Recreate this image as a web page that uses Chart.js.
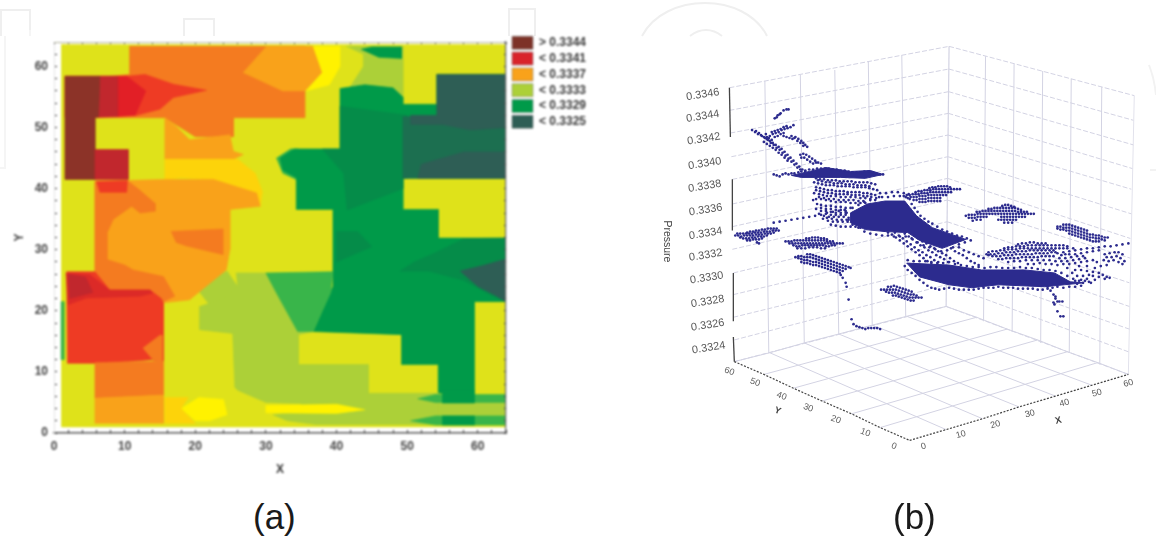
<!doctype html>
<html><head><meta charset="utf-8">
<script src="https://cdn.jsdelivr.net/npm/chart.js@4"></script>
<style>
html,body{margin:0;background:#fff;width:1156px;height:539px;overflow:hidden}
canvas{position:absolute}
#a{filter:blur(.8px)}
#b{filter:blur(.6px)}
svg{position:absolute;left:0;top:0}
.cap{position:absolute;top:496px;font:35px "Liberation Sans",Arial,sans-serif;color:#1a1a1a;line-height:42px}
</style></head><body>
<svg width="1156" height="539" fill="none" stroke="#efefef" stroke-width="2">
<path d="M1 36V10H30V36M184 36V19H214V36M509 36V9H535V36M642 36C665 -8 745 -8 767 36M690 36C700 28 712 28 722 36"/>
<path d="M30 30V36M5 36V168H0" stroke="#f5f5f5"/>
<path d="M1149 65C1153 75 1155 85 1156 95M1150 170H1156" stroke="#f2f2f2"/>
</svg>
<canvas id="a" width="620" height="480" style="left:0;top:0"></canvas>
<canvas id="b" width="536" height="539" style="left:620px;top:0"></canvas>
<div class="cap" style="left:253px">(a)</div>
<div class="cap" style="left:893px">(b)</div>
<script>
// ---------- panel (a): level regions, X,Y pairs ----------
const legendLabels=['> 0.3344','< 0.3341','< 0.3337','< 0.3333','< 0.3329','< 0.3325'];
const legendColors=['#7d3227','#d9232a','#f9a21a','#acd038','#009a49','#2e5e55'];
const lime='#dfe21a',orange='#f47b20',lightOrange='#f9a21a',red='#ee3b24',deepRed='#e21f26',darkRed='#c1272d',brown='#8c3328',
 yellow='#fff200',amber='#fdd30a',lightGreen='#acd038',midGreen='#39b54a',green='#009a49',darkGreen='#058c49',tealMid='#1c6f50',teal='#2e5e55';
const rBase=[1.1,1,64,1,64,63.6,1.1,63.6];
const rOrangeTop=[10.7,63.3,35.5,63.3,35.5,51.6,25.4,51.6,25.4,48.5,20,48.5,15.7,51.6,5,51.6,5,58,10.7,58.7];
const rAmberTop=[30.1,63.3,26.8,59,32.4,56,35.5,56,38,59,36.7,63.3];
const rYellowTop=[36.7,63.3,38,59,35.7,56,39,57,40.5,60,40.5,63.3];
const rLowerOrange=[15.7,51.6,17.3,50.2,19.2,48,24.9,48.8,25.4,46.1,26.8,45.6,25.4,44.8,15.7,44.8];
const rGreenTopLight=[41.4,63.3,49.4,63.3,49.4,55,41,55,43.8,60,43.8,62];
const rGreenTop=[43.5,62.8,45,63.2,49.2,63.2,49.2,61.3,46,61.5];
const rGreen=[40.5,56.4,44,57,48,56.5,49.4,55,49.4,53.8,54.2,53.8,54.2,58.7,64,58.7,64,41.7,49.4,41.7,49.4,36.6,54.4,36.6,54.4,31.9,64,31.9,64,21.5,59.5,21.5,59.5,6.5,54.4,6.5,54.4,11.2,49.2,11.2,49.2,16.1,36.7,16.6,39.5,24,39.5,36.6,34.3,36.6,34.3,41.8,32.4,43,32,45,34,46.5,40.5,46.5];
const rGreenEdge=[31.5,45,32.4,42.5,34.3,41.5,34.6,41.5,34.6,46.5,33.5,46.5];
const rGreenDark=[40.5,53.5,50,52,50,41.7,49.4,41.7,49.4,40,41.5,36.5,41,42.5,38,46.5,40.5,46.5];
const rTealMid=[49.4,51.8,56,51.6,64,50,64,41.7,49.4,41.7];
const rTealUpper=[54.2,58.7,64,58.7,64,50,59,49.6,55,50.5,50.5,50.5,50.5,52,54.2,52];
const rTealLower=[51.5,41.7,64,41.7,64,46,58,46,52,44];
const rDarkLower=[49,26.5,51,28,54,29.5,58,31.8,64,31.9,64,21.5,62,22.5,58,25,53,26.5];
const rTealCorner=[57.5,26.5,61,27.5,64,28.5,64,21.5,62.5,22.5,60,24];
const rDarkPatch=[40,33,43,33,45,30.5,42,29,40,28];
const rMidGreen=[30,26.2,39.5,26.4,39.2,23,38,20,36.7,16.6,34.5,16.6,31.5,22.9];
const rLightGreen=[25.8,26.2,30,26.2,36.7,16.6,34.6,16.1,34.6,11.2,44.5,11.2,44.5,6.5,54.5,6.5,54.5,1.4,37,1.4,33,2,31,3,35,3.5,35,4.8,30,5,26,7,25.6,7.5,25.3,16.3,20.6,16.9,20.6,20.7,24,22,26,24];
const rLimeLobe=[20,24,24.5,26.5,26,24,25.5,21.5,22,21];
const rYellowBand=[30,4.5,40,4.7,44,3.8,40,3.2,30,3.3];
const rYellowBottom=[18,4,20.5,5.8,24,5.5,24.5,3,22,2,20,2];
const rAmberBottom=[15.7,5.8,19,5.8,18,4,20,1.6,15.7,1.6];
const rBandMid=[54.4,5,64,5,64,2.8,54.4,2.8];
const rBandUpper=[51.5,5.6,54,6.3,64,6.3,64,5,54,5];
const rBandLower=[50.5,2,54,2.8,64,2.8,64,1.3,54,1.3];
const rCentreUpper=[55,7,59.5,7,59.5,4.9,55,4.9];
const rCentreLower=[55,2.8,59.5,2.8,59.5,1.3,55,1.3];
const rRedTail=[1.55,58.4,10.3,58.4,12.9,58.7,16.9,57.1,21.6,56.1,16.9,54.9,15,53,11.7,52,5.8,51.7,1.55,51.7];
const rRedCore=[9,58.4,10.3,58.4,13,56,11.5,52,9,51.8];
const rDarkRedTop=[6.5,58.4,9,58.4,9,51.8,6,51.7];
const rBrown=[1.55,58.4,6.5,58.4,6.3,51.7,5.8,51.7,5.8,41.5,1.55,41.5];
const rDarkRedBlock=[5.8,46.4,10.5,46.4,10.5,41.5,5.8,41.5];
const rAmberBand=[15.7,44.8,26,44.8,28.5,42.5,29.5,39.5,29.2,37,28,39.3,22.6,41.5,18,41.8,15.7,41.5];
const rMidOrange=[5.8,41.2,15.7,41.5,22.6,41.5,28.7,39.3,29.2,37.1,24.9,36.6,24.9,30,24.4,26.7,19.2,21.8,15.5,21.3,5.8,21.3];
const rLeftOrange=[5.8,41.2,10.4,41.3,12,39.9,14.3,37.6,14.3,36.3,12.2,36,11,37.1,8.4,35,7.5,32.7,7.5,28.4,10,27.5,11.2,26.7,15.5,25.6,17.1,22.4,15.5,21.5,5.8,21.5];
const rOrangePatch=[16.6,33,23.9,33.4,23.9,29.2,18.8,30.6,17.3,31.2];
const rRedTopSmall=[6,41.2,10.4,41.3,10.3,39.4,6.5,39.4];
const rRedMain=[1.8,26.4,5.8,26.4,7.9,23.4,13.6,23.4,15.2,22,15.5,21.3,15.5,11.6,13.8,12,7,11.4,1.9,11.4];
const rRedDark=[1.7,26.2,5.1,25.9,7.9,23.4,13.6,23.4,14,22.9,12.2,22.4,4.6,22.1,2,21];
const rRedDarkest=[2,26,4.5,25.5,5.5,23,2.2,22];
const rOrangeInRed=[12.6,13.9,15,16,15.3,16,15.3,11.6,14,12];
const rOrangeLow=[5.8,11.5,15.5,11.8,15.5,6.2,5.8,5.7];
const rAmberLow=[5.8,5.7,15.5,6.2,15.5,1.6,5.8,1.6];
const rGreenStrip=[1,21.5,1.4,21.5,1.4,12,1,12];
const paintOrder=[[lime,rBase],[orange,rOrangeTop],[lightOrange,rAmberTop],[yellow,rYellowTop],[lightOrange,rLowerOrange],
 [lightGreen,rGreenTopLight],[green,rGreenTop],[lightGreen,rLimeLobe],[midGreen,rGreenEdge],[green,rGreen],[darkGreen,rGreenDark],[tealMid,rTealMid],[teal,rTealUpper],[teal,rTealLower],
 [darkGreen,rDarkLower],[teal,rTealCorner],[darkGreen,rDarkPatch],[lightGreen,rLightGreen],[midGreen,rMidGreen],[yellow,rYellowBand],[yellow,rYellowBottom],[amber,rAmberBottom],
 [lightGreen,rBandMid],[midGreen,rBandUpper],[midGreen,rBandLower],[green,rCentreUpper],[green,rCentreLower],
 [red,rRedTail],[deepRed,rRedCore],[darkRed,rDarkRedTop],[brown,rBrown],[darkRed,rDarkRedBlock],
 [amber,rAmberBand],[lightOrange,rMidOrange],[orange,rLeftOrange],[orange,rOrangePatch],[red,rRedTopSmall],[red,rRedMain],['#dc2a27',rRedDark],[darkRed,rRedDarkest],[orange,rOrangeInRed],[orange,rOrangeLow],[lightOrange,rAmberLow],[midGreen,rGreenStrip]];

// ---------- panel (b): 3-D plot read as projected positions (u,v) ----------
const pressureTicks=['0.3346','0.3344','0.3342','0.3340','0.3338','0.3336','0.3334','0.3332','0.3330','0.3328','0.3326','0.3324'];
const pressureTickU=[700,700,701,702,702,703,703,703,704,705,705,706];
const pressureTickV=[92,114,137,162,185,209,233,255,278,302,326,349];
const yFloorTicks=['60','50','40','30','20','10','0'];
const yFloorU=[727,753,780,807,835,865,894];
const yFloorV=[373,384,398,410,422,435,449];
const xFloorTicks=['0','10','20','30','40','50','60'];
const xFloorU=[924,962,997,1032,1067,1100,1132];
const xFloorV=[449,437,427,416,405,395,385];
const wallLeftV=[85,108,131,155,178,203,226,249,273,295,318,341,363];
const wallBackV=[43,66,89,111,133,155,177,199,221,243,265,285,307];
const wallRightV=[93,118,143,167,188,213,238,258,283,307,330,353,376];
const wallLeftU=[727,727,728,729,730,730,730,730,731,731,731,732,732];
const wallRightU=[1138,1137,1137,1136,1135,1135,1134,1134,1133,1133,1133,1132,1132];
const vertLeftU=[763,799,834,868,902],vertLeftTop=[78,72,67,58,52],vertLeftBottom=[354,344,335,326,317];
const vertRightU=[987,1016,1045,1074,1105],vertRightTop=[53,61,68,76,84],vertRightBottom=[322,333,344,354,366];
const floorLeftFront=[732,363,762,376,792,390,821,403,851,416,880,430,910,443];
const floorBackRight=[947,307,978,318,1009,330,1040,341,1070,353,1101,364,1132,376];
const floorFrontRight=[910,443,947,432,984,421,1021,409,1058,398,1095,387,1132,376];
const floorLeftBack=[732,363,768,354,803,344,838,335,872,326,907,317,947,307];
const denseBody=[850,212,867,203,885,200,905,200,917,215,933,227,967,239,943,248,920,240,908,232,885,231,865,229,850,222];
const denseBand=[907,263,950,265,983,270,1027,270,1057,273,1073,282,1087,283,1067,285,1047,287,1000,285,973,288,950,285,920,277];
const denseTail=[790,174,808,170,825,166,850,170,870,169,883,173,865,177,840,176,815,176,800,176];
const bodyEdge=[846,212,852,207,858,204,864,201,870,199,876,197,882,196,888,196,894,195,900,195,906,196,910,198,912,203,915,207,918,211,921,215,925,218,929,221,933,223,938,226,943,229,948,231,953,233,958,235,963,236,968,238,972,240,880,192,886,192,892,191,898,191,904,192,909,193,848,219,852,224,858,227,864,231,870,233,876,234,882,235,888,235,894,236,900,236,906,236,912,238,918,242,924,245,930,247,936,249,942,251,948,250,954,247,960,244,966,242];
const bandTop=[908,260,914,261,920,261,926,261,932,262,938,263,944,263,950,262,956,264,962,265,968,266,974,267,980,267,986,268,992,267,998,267,1004,268,1010,268,1016,268,1022,267,1028,268,1034,268,1040,269,1046,270,1052,270,1058,271,1064,273,1070,276,1076,279,1082,281,1088,281,1094,283,1060,287,1066,288,1072,287,1078,287,1084,286];
const upperCloud2=[817,179,821,180,825,181,829,181,833,182,837,182,841,182,845,183,849,183,853,183,857,184,861,184,865,184,869,185,815,189,819,190,823,191,827,192,831,192,835,193,839,193,843,193,847,193,851,194,855,194,859,194,863,195,867,195,871,196,818,196,823,197,828,198,833,198,838,199,843,199,848,199,853,199,858,200,863,200,820,207,825,208,830,208,835,209,840,209,845,210,825,213,830,214,835,214,840,214,845,214,826,217,831,218,836,219,841,219,846,219];
const patch1=[745,232,748,231,751,231,754,230,757,230,760,229,763,229,766,228,769,228,772,228,775,228,735,233,738,233,741,233,744,233,747,233,750,233,753,232,756,232,759,232,762,231,765,231,768,231,771,230,774,230,777,230,733,235,736,235,739,236,742,235,745,235,748,235,751,235,754,234,757,234,760,234,763,233,766,233,769,233,772,232,738,237,741,238,744,238,747,238,750,237,753,237,756,236,759,236,762,236,765,235,745,240,748,240,751,239,754,239,757,239,760,238,757,243,755,242];
const ridgeLine=[772,222,778,221,784,220,790,219,796,218,802,217,808,216,814,215,820,214,826,212,832,211,838,210,844,209];
const patch2=[805,238,808,238,811,237,814,237,817,237,820,238,823,238,826,239,784,241,787,241,790,241,793,240,796,240,799,240,802,240,805,240,808,240,811,240,814,240,817,240,820,240,823,240,826,241,829,241,832,241,788,243,791,243,794,243,797,243,800,243,803,243,806,243,809,243,812,243,815,243,818,243,821,243,824,243,827,243,830,243,833,243,836,243,839,243,842,243,792,245,795,246,798,246,801,245,804,245,807,245,810,245,813,245,816,245,819,245,822,245,825,246,828,246,831,245,834,245,796,248,800,248,804,248,808,247,812,247,816,247,820,248,824,248];
const patch3=[806,254,809,254,812,255,815,256,818,257,821,258,824,259,827,260,830,261,833,262,836,263,839,264,842,265,845,266,848,267,850,268,797,256,800,256,803,257,806,257,809,257,812,258,815,259,818,260,821,261,824,262,827,263,830,264,833,265,836,266,839,267,842,268,845,269,794,257,797,258,800,259,803,260,806,260,809,261,812,262,815,262,818,263,821,264,824,265,827,266,830,267,833,268,836,269,839,270,842,271,800,262,803,263,806,263,809,264,812,265,815,265,818,266,821,267,824,268,827,269,830,270,833,271,836,272,839,273];
const dropColumn=[840,275,842,278,845,283,846,287,848,300,851,320,853,325,856,327,859,328,862,329,865,330,868,329,871,329,874,329,877,329,880,330];
const patch4=[888,287,891,287,894,286,897,287,900,288,903,289,906,290,909,291,912,292,881,290,884,290,887,290,890,290,893,290,896,290,899,291,902,292,905,293,908,294,911,295,914,295,917,296,886,292,889,293,892,293,895,293,898,294,901,295,904,296,907,297,910,298,913,298,916,298,919,298,922,298,893,296,896,296,899,297,902,298,905,299,908,300,911,301,914,301];
const patch5=[930,187,933,186,936,186,939,185,942,185,945,185,948,185,951,186,916,191,919,190,922,190,925,189,928,189,931,189,934,188,937,188,940,188,943,188,946,188,949,188,952,188,955,188,958,188,961,188,904,195,907,194,910,194,913,193,916,193,919,193,922,192,925,192,928,192,931,191,934,191,937,191,940,191,943,191,946,191,949,191,952,191,908,197,911,196,914,196,917,196,920,195,923,195,926,195,929,194,932,194,935,194,938,194,941,194,944,194,947,194,914,199,917,199,920,198,923,198,926,198,929,197,932,197,935,197,938,197,941,197,920,201,923,201,926,201,929,200,932,200,935,200,938,200,941,200];
const patch6=[1004,205,1007,204,1010,204,1013,205,1016,206,990,208,993,208,996,207,999,207,1002,207,1005,207,1008,207,1011,207,1014,207,1017,207,1020,208,1023,209,978,211,981,211,984,210,987,210,990,210,993,210,996,210,999,210,1002,210,1005,210,1008,210,1011,210,1014,210,1017,210,1020,211,1023,211,1026,211,1029,211,967,215,970,214,973,214,976,214,979,213,982,213,985,213,988,213,991,213,994,213,997,213,1000,213,1003,213,1006,213,1009,213,1012,213,1015,213,1018,213,1021,213,1024,213,1027,213,1030,213,1033,213,1036,213,970,217,973,217,976,217,979,216,982,216,985,216,988,216,1003,216,1006,216,1009,216,1012,216,1015,216,1018,216,1021,216,1024,216,1027,216,974,220,978,219,982,219,1000,219,1003,219,1006,219,1009,219,1012,219,1015,219,1018,219,1006,222,1010,222,1014,222];
const patch7=[1066,224,1069,224,1072,224,1075,225,1078,226,1081,227,1084,228,1087,229,1090,230,1060,226,1063,226,1066,227,1069,227,1072,227,1075,228,1078,229,1081,230,1084,231,1087,232,1090,233,1093,234,1096,234,1099,235,1102,235,1105,236,1108,237,1111,237,1060,228,1063,229,1066,229,1069,230,1072,230,1075,231,1078,232,1081,233,1084,234,1087,235,1090,236,1093,237,1096,237,1099,238,1102,238,1105,239,1108,240,1072,233,1075,234,1078,235,1081,236,1084,237,1087,238,1090,239,1093,240,1096,241,1099,241,1102,241];
const patch8=[1020,244,1024,243,1028,243,1032,242,1036,242,1040,243,1044,243,1048,243,1006,248,1010,247,1014,247,1018,246,1022,246,1026,246,1030,245,1034,245,1038,245,1042,245,1046,245,1050,245,1054,245,1058,245,1062,245,1066,245,1070,246,990,252,994,251,998,251,1002,250,1006,250,1010,249,1014,249,1018,249,1022,248,1026,248,1030,248,1034,248,1038,248,1042,248,1046,248,1050,248,1054,248,1058,248,1062,248,1066,248,1070,248,1076,248,988,254,992,254,996,254,1000,253,1004,253,1008,252,1012,252,1016,252,1020,251,1024,251,1028,251,1032,250,1036,250,1040,250,1044,250,1048,250,1052,250,1056,250,1060,253,1066,252,1072,251,1078,250,1084,249,1090,248,1096,248,1102,247,1108,246,1114,246,1120,245,1126,244,1132,243];
const sparseRight=[990,255,994,256,998,256,1002,256,1006,255,1010,255,1014,255,1018,254,1022,254,1026,254,1030,254,1034,254,1038,253,1042,253,1046,253,1050,253,1054,252,1058,252,1064,255,1068,254,1072,254,1078,254,1084,253,1090,252,1096,251,1102,250,1000,259,1004,259,1008,258,1012,258,1016,258,1020,258,1024,257,1028,257,1032,257,1036,257,1040,257,1044,256,1048,256,1052,256,1056,256,1062,258,1068,258,1074,257,1080,256,1086,256,1010,262,1016,261,1022,261,1028,260,1034,260,1040,260,1046,260,1052,260,1058,261,1064,261,1070,261,1076,260,1082,259,1088,258,1030,264,1036,264,1042,263,1048,264,1054,264,1060,265,1066,264,1072,264,1078,263,1084,262,1090,261,1096,260,1108,254,1113,253,1118,252,1122,252,1126,254,1110,257,1115,257,1120,256,1124,258,1128,261,1107,260,1112,261,1117,260,1122,262,1126,264,1078,270,1084,270,1090,271,1096,272,1102,273,1106,275,1110,277,1113,278,1096,276,1102,277,1108,279,1090,279,1084,280,1078,281,1072,283,1098,280,1092,282,1086,283,1080,284,1070,268,1075,273,1080,276,1086,276,1092,275,1098,268,1104,266,1110,265,1100,262,1090,266,1082,266];
const tailDown=[1050,287,1053,291,1056,295,1058,299,1060,302,1056,303,1062,302,1058,297,1065,302,1057,305,1060,312,1063,317,1066,317];
const bandEdge=[905,266,908,270,912,273,916,276,920,280,924,283,928,286,932,288,936,289,940,290,945,289,950,288,955,289,960,290,965,290,970,290,975,290,980,289,985,288,990,288,995,288,1000,287,1005,288,1010,288,1015,288,1020,289,1025,289,1030,289,1035,289,1040,290,1045,290,1050,289,1055,288];
const midDiagonal=[888,232,892,234,896,237,900,240,904,243,908,246,912,249,916,252,920,255,924,258,928,261,932,263,895,232,899,235,903,238,907,241,911,244,915,247,919,250,923,252,927,255,931,257,935,260,939,262,905,233,909,236,913,239,917,242,921,245,925,247,929,250,933,252,937,255,941,257,945,259,949,262,915,235,919,238,923,241,927,243,931,246,935,248,939,251,943,253,947,255,951,258,955,261,959,263,952,248,956,251,960,253,964,255,968,258,972,261,976,263,980,265,960,247,965,250,970,252,975,254,980,256,985,258];
const upperCloud=[815,177,819,178,823,178,827,179,831,179,835,179,839,180,843,180,847,180,851,180,855,181,859,181,863,181,867,181,871,182,875,183,813,181,817,182,821,183,825,184,829,184,833,184,837,185,841,185,845,185,849,185,853,186,857,186,861,186,865,186,869,187,873,188,877,189,815,186,819,187,823,188,827,189,831,189,835,190,839,190,843,190,847,191,851,191,855,191,859,191,863,192,867,192,871,193,875,194,879,196,813,192,818,193,822,194,826,195,830,195,835,195,840,196,845,196,850,196,855,196,860,197,865,197,870,198,875,199,815,198,820,198,825,199,830,200,835,201,840,201,845,201,850,202,855,202,860,202,865,202,812,199,816,203,820,204,825,205,830,205,835,206,840,206,845,207,850,207,815,208,820,210,825,210,830,211,835,212,840,212,845,212,818,213,823,215,828,216,833,216,838,216,843,216,848,217,822,218,827,220,832,221,837,221,842,221,847,221,830,224,835,225,840,226,845,226,850,226,855,226,860,227];
const tailRow=[772,173,775,174,778,175,781,173,784,172,787,173,790,172,793,172,797,171,800,170,804,169,808,168,812,168,816,167,820,167,824,167,828,167,832,168,836,168,840,169,844,169,848,170,852,171,856,171,860,171,864,170,868,170,872,171,876,172,880,173,883,173];
const mainDiagonal=[750,128,753,130,756,132,759,133,762,135,765,137,768,139,771,141,774,143,777,145,780,147,783,150,786,153,789,156,792,159,795,162,798,165,801,168,804,170,754,129,757,131,760,134,763,136,766,138,769,141,772,143,775,146,778,148,781,151,784,154,787,157,790,160,793,163,796,166,799,168,762,140,765,142,768,144,771,146,774,148,777,151,780,153,783,156,786,159];
const shortArm=[765,135,768,134,771,132,774,131,777,130,780,128,783,127,786,126,789,125,792,123,770,130,773,129,776,128,779,127,782,125,785,124,764,132,767,136,770,138,773,135,776,134,779,132,782,131,773,116,776,113,779,111,782,108,785,107,787,107,775,115,778,112];
const sideArm=[782,134,785,135,788,136,791,137,794,135,797,137,800,139,802,141,804,143,806,145,790,134,793,136,796,139,799,141,802,144,799,153,802,152,805,153,808,155,811,157,814,159,817,161,820,162,800,156,803,156,806,158,809,160,812,162,815,161];

// ---------- helpers ----------
const pts=f=>{const o=[];for(let i=0;i<f.length;i+=2)o.push({x:f[i],y:f[i+1]});return o;};
const closed=f=>pts(f.concat([f[0],f[1]]));
const FONT='"Liberation Sans",Arial,sans-serif';

// ---------- chart (a) ----------
const regionSets=paintOrder.slice().reverse().map(([c,f])=>({data:closed(f),showLine:true,fill:'shape',tension:0,pointRadius:0,backgroundColor:c,borderColor:c,borderWidth:.6}));
const axisFont={family:FONT,size:12,weight:'bold'};
new Chart(document.getElementById('a'),{type:'scatter',data:{datasets:regionSets},
 plugins:[{id:'legendPlace',afterLayout(c){const l=c.legend;const w=l.width,h=l.height;l.left=509.2;l.top=33.5;l.right=509.2+w+40;l.bottom=33.5+h;}}],
 options:{responsive:false,animation:false,events:[],layout:{padding:0},
  plugins:{tooltip:{enabled:false},legend:{position:'chartArea',align:'start',labels:{boxWidth:21,boxHeight:13,padding:1.2+1.6,color:'#3a3a3a',font:axisFont,
    generateLabels:()=>legendLabels.map((t,i)=>({text:t,fillStyle:legendColors[i],strokeStyle:'#777',lineWidth:.5,hidden:false,index:i,fontColor:'#3a3a3a'}))}}},
  scales:{
   x:{type:'linear',position:'bottom',min:0,max:64,afterFit(s){s.height=47;},
      title:{display:true,text:'X',color:'#333',font:{family:FONT,size:12,weight:'bold'},padding:{top:0,bottom:3}},
      ticks:{stepSize:2,autoSkip:false,maxRotation:0,padding:9,color:'#444',font:axisFont,callback:v=>v%10===0?v:''},
      grid:{drawOnChartArea:false,tickLength:-3,tickColor:'#333',z:2},border:{color:'#555',width:1.5,z:2}},
   y:{type:'linear',position:'left',min:0,max:64,afterFit(s){s.width=54;},
      title:{display:true,text:'Y',color:'#333',font:{family:FONT,size:12,weight:'bold'},padding:{top:12,bottom:0}},
      ticks:{stepSize:2,autoSkip:false,padding:9,color:'#444',font:axisFont,callback:v=>v%10===0?v:''},
      grid:{drawOnChartArea:false,tickLength:-3,tickColor:'#333',z:2},border:{color:'#e4e4e4',width:1,z:2}},
   x2:{type:'linear',axis:'x',position:'top',min:0,max:64,afterFit(s){s.height=42;},ticks:{display:false,stepSize:2,autoSkip:false},
      grid:{drawOnChartArea:false,tickLength:-2,tickColor:'#444',z:2},border:{color:'#b5b5a0',width:1,z:2}},
   y2:{type:'linear',axis:'y',position:'right',min:0,max:64,afterFit(s){s.width=114;},ticks:{display:false,stepSize:2,autoSkip:false},
      grid:{drawOnChartArea:false,tickLength:-2,tickColor:'#444',z:2},border:{color:'#666',width:1.2,z:2}}
  }}});

// ---------- chart (b) ----------
const bSets=[];
const cloud=f=>({data:pts(f),showLine:false,pointRadius:1.35,pointBackgroundColor:'#2c2b8e',pointBorderWidth:0});
const solid=f=>({data:closed(f),showLine:true,fill:'shape',tension:0,pointRadius:0,backgroundColor:'#2c2b8e',borderColor:'#2c2b8e',borderWidth:1});
const seg=(f,col,w,dash)=>({data:pts(f),showLine:true,fill:false,tension:0,pointRadius:0,borderColor:col,borderWidth:w,borderDash:dash||[]});
[patch1,ridgeLine,patch2,patch3,dropColumn,patch4,patch5,patch6,patch7,patch8,sparseRight,tailDown,bandEdge,bandTop,bodyEdge,midDiagonal,upperCloud,upperCloud2,tailRow,mainDiagonal,shortArm,sideArm].forEach(f=>bSets.push(cloud(f)));
[denseBody,denseBand,denseTail].forEach(f=>bSets.push(solid(f)));
const gridCol='#d3d3e3';
bSets.push(seg(floorLeftFront,'#444',1.2,[2,1.5]));
bSets.push(seg(floorFrontRight,'#444',1.2,[2,1.5]));
[0,4,8].forEach(i=>bSets.push(seg([wallLeftU[i],wallLeftV[i],wallLeftU[i+2],wallLeftV[i+2]+4],'#444',1.3)));
bSets.push(seg([wallLeftU[10],wallLeftV[10]+20,wallLeftU[12],wallLeftV[12]],'#444',1.3));
wallLeftV.forEach((v,i)=>{bSets.push(seg([wallLeftU[i],v,950-(i*3/12),wallBackV[i]],gridCol,1,[5,2]));bSets.push(seg([950-(i*3/12),wallBackV[i],wallRightU[i],wallRightV[i]],gridCol,1,[5,2]));});
vertLeftU.forEach((u,i)=>bSets.push(seg([u,vertLeftTop[i],u+4,vertLeftBottom[i]],gridCol,1)));
vertRightU.forEach((u,i)=>bSets.push(seg([u,vertRightTop[i],u-2,vertRightBottom[i]],gridCol,1)));
bSets.push(seg([950,43,947,307],gridCol,1.2));
bSets.push(seg([1138,93,1132,376],'#e2e2ec',1));
for(let i=1;i<6;i++){bSets.push(seg([floorLeftFront[2*i],floorLeftFront[2*i+1],floorBackRight[2*i],floorBackRight[2*i+1]],gridCol,1));
 bSets.push(seg([floorFrontRight[2*i],floorFrontRight[2*i+1],floorLeftBack[2*i],floorLeftBack[2*i+1]],gridCol,1));}
bSets.push(seg(floorLeftBack,gridCol,1));bSets.push(seg(floorBackRight,gridCol,1));

const textPlugin={id:'plotText',afterDraw(c){const g=c.ctx,sx=c.scales.x,sy=c.scales.y;
 const put=(t,u,v,rot,font,col)=>{g.save();g.translate(sx.getPixelForValue(u),sy.getPixelForValue(v));g.rotate(rot*Math.PI/180);g.font=font;g.fillStyle=col;g.textAlign='center';g.textBaseline='middle';g.fillText(t,0,0);g.restore();};
 const f1='11px '+FONT,f2='9px '+FONT,f3='bold 9.5px '+FONT;
 pressureTicks.forEach((t,i)=>put(t,pressureTickU[i],pressureTickV[i],-9,f1,'#5a5a5a'));
 yFloorTicks.forEach((t,i)=>put(t,yFloorU[i],yFloorV[i],20,f2,'#5a5a5a'));
 xFloorTicks.forEach((t,i)=>put(t,xFloorU[i],xFloorV[i],-15,f2,'#5a5a5a'));
 put('Pressure',664,241,90,'10.5px '+FONT,'#444');
 put('Y',776,413,20,f3,'#444');put('X',1061,423,-15,f3,'#444');
}};
new Chart(document.getElementById('b'),{type:'scatter',data:{datasets:bSets},plugins:[textPlugin],
 options:{responsive:false,animation:false,events:[],layout:{padding:0},plugins:{legend:{display:false},tooltip:{enabled:false}},
  scales:{x:{type:'linear',min:620,max:1156,display:false},y:{type:'linear',min:0,max:539,reverse:true,display:false}}}});
</script></body></html>
